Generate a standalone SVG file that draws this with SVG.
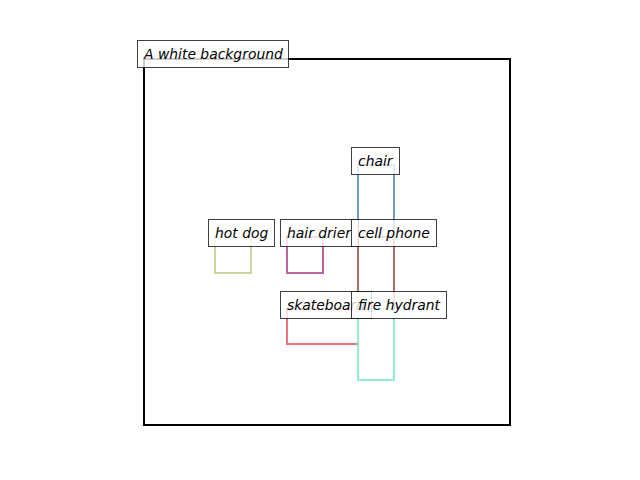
<svg xmlns="http://www.w3.org/2000/svg" width="640" height="480" viewBox="0 0 640 480">
<style>
.obj{fill:none;stroke-width:2}
.lbl rect{fill:#fff;fill-opacity:0.8;stroke:#000;stroke-opacity:0.75;stroke-width:1}
.lbl text{font-family:"DejaVu Sans",sans-serif;font-style:oblique;font-size:13.9px;fill:#000}
</style>
<rect width="640" height="480" fill="#fff"/>
<rect id="frame" x="144" y="59" width="366" height="366" fill="none" stroke="#000" stroke-width="2"/>
<g id="connectors"></g>
<g id="boxes">
<rect id="box-hotdog" class="obj" x="215" y="237" width="36" height="36" stroke="#cbd59c"/>
<rect id="box-hairdrier" class="obj" x="287" y="237" width="36" height="36" stroke="#b8679c"/>
<rect id="box-chair" class="obj" x="358" y="165" width="36" height="72" stroke="#6f9bd2"/>
<rect id="box-cellphone" class="obj" x="358" y="237" width="36" height="72" stroke="#a8706a"/>
<rect id="box-skateboard" class="obj" x="287" y="309" width="71" height="35" stroke="#ee7080"/>
<rect id="box-firehydrant" class="obj" x="358" y="309" width="36" height="71" stroke="#95ebd0"/>
</g>
<g id="title" class="lbl"><rect x="137.5" y="40.5" width="151" height="27"/><text x="144" y="59">A white background</text></g>
<g id="chair" class="lbl"><rect x="351.5" y="147.5" width="48" height="27"/><text x="358" y="166">chair</text></g>
<g id="hotdog" class="lbl"><rect x="208.5" y="219.5" width="66" height="27"/><text x="215" y="238">hot dog</text></g>
<g id="hairdrier" class="lbl"><rect x="280.5" y="219.5" width="78" height="27"/><text x="287" y="238">hair drier</text></g>
<g id="cellphone" class="lbl"><rect x="351.5" y="219.5" width="85" height="27"/><text x="358" y="238">cell phone</text></g>
<g id="skateboard" class="lbl"><rect x="280.5" y="291.5" width="91" height="27"/><text x="287" y="310">skateboard</text></g>
<g id="firehydrant" class="lbl"><rect x="351.5" y="291.5" width="95" height="27"/><text x="358" y="310">fire hydrant</text></g>
</svg>
